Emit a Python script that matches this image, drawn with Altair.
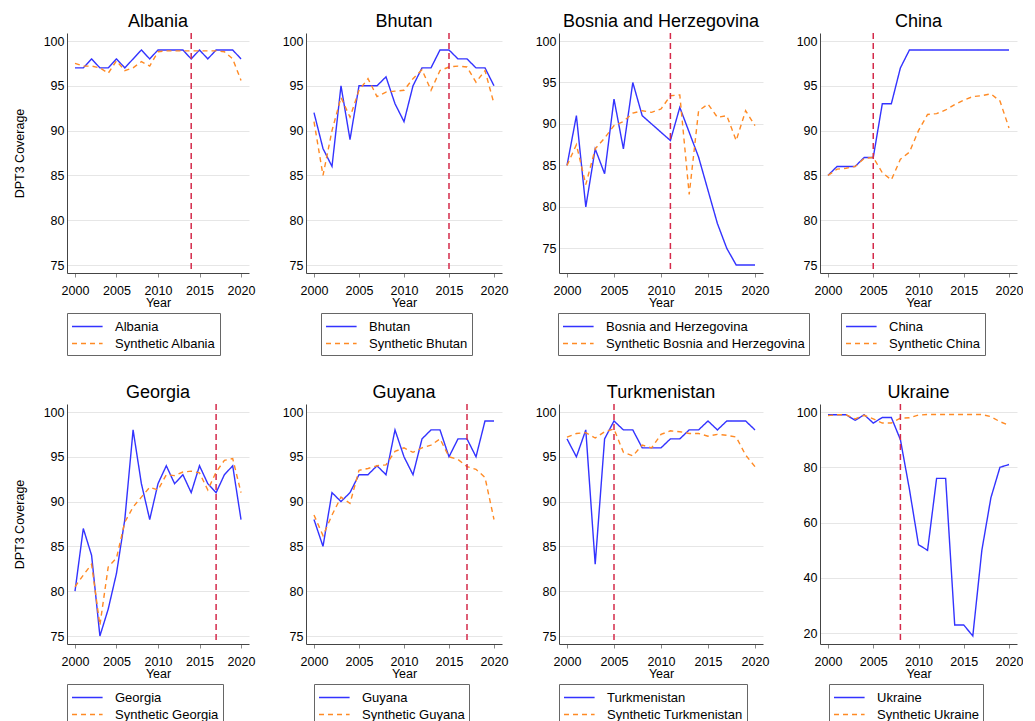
import altair as alt
import pandas as pd

years = list(range(2000, 2021))

albania = [97, 97, 98, 97, 97, 98, 97, 98, 99, 98, 99, 99, 99, 99, 98, 99, 98, 99, 99, 99, 98]
albania_syn = [97.5, 97.2, 97.2, 97.0, 96.4, 97.8, 96.7, 97.0, 97.7, 97.2, 98.8, 98.9, 98.9, 98.9, 98.9, 98.9, 98.9, 98.9, 98.8, 98.0, 95.6]

bhutan = [92, 88, 86, 95, 89, 95, 95, 95, 96, 93, 91, 95, 97, 97, 99, 99, 98, 98, 97, 97, 95]
bhutan_syn = [91, 85, 90, 93.7, 91.5, 94.5, 95.8, 93.8, 94.3, 94.4, 94.5, 95.8, 96.8, 94.5, 96.7, 97.1, 97.2, 97.1, 95.4, 96.7, 93.0]

bosnia = [85, 91, 80, 87, 84, 93, 87, 95, 91, 90, 89, 88, 92, 89, 86, 82, 78, 75, 73, 73, 73]
bosnia_syn = [85, 87.5, 82.7, 87, 88.3, 89.8, 90.3, 91.3, 91.6, 91.4, 91.8, 93.4, 93.5, 81.5, 91.6, 92.4, 90.8, 91, 88, 91.6, 89.8]

china = [85, 86, 86, 86, 87, 87, 93, 93, 97, 99, 99, 99, 99, 99, 99, 99, 99, 99, 99, 99, 99]
china_syn = [85, 85.7, 85.8, 86, 86.9, 87, 85.3, 84.5, 86.8, 87.6, 90, 91.8, 91.9, 92.3, 92.9, 93.4, 93.8, 93.9, 94.1, 93.3, 90.3]

georgia = [80, 87, 84, 75, 78, 82, 88, 98, 92, 88, 92, 94, 92, 93, 91, 94, 92, 91, 93, 94, 88]
georgia_syn = [80.5, 81.8, 83, 76.2, 82.7, 83.7, 87.7, 89.4, 90.5, 91.6, 91.3, 93.0, 92.9, 93.3, 93.4, 93.2, 91.3, 93.3, 94.6, 94.8, 91.0]

guyana = [88, 85, 91, 90, 91, 93, 93, 94, 93, 98, 95, 93, 97, 98, 98, 95, 97, 97, 95, 99, 99]
guyana_syn = [88.5, 86.2, 88.5, 90.5, 89.8, 93.5, 93.7, 94.0, 94.1, 95.6, 96.0, 95.5, 96.0, 96.3, 97.0, 95.0, 94.7, 93.9, 93.6, 92.7, 88.0]

turkmenistan = [97, 95, 98, 83, 97, 99, 98, 98, 96, 96, 96, 97, 97, 98, 98, 99, 98, 99, 99, 99, 98]
turkmenistan_syn = [97.2, 97.6, 97.7, 97.1, 97.8, 98.1, 95.5, 95.1, 96.3, 96.0, 97.5, 97.9, 97.8, 97.6, 97.6, 97.3, 97.5, 97.4, 97.2, 95.2, 93.9]

ukraine = [99, 99, 99, 97, 99, 96, 98, 98, 90, 72, 52, 50, 76, 76, 23, 23, 19, 50, 69, 80, 81]
ukraine_syn = [98.7, 99, 99, 97.5, 98.8, 97.5, 96, 96, 97.8, 97.9, 98.9, 99.1, 99.1, 99.1, 99.1, 99.1, 99.1, 99.1, 98.3, 96.5, 95.2]

countries = ["Albania", "Bhutan", "Bosnia and Herzegovina", "China",
             "Georgia", "Guyana", "Turkmenistan", "Ukraine"]
actual_series = [albania, bhutan, bosnia, china, georgia, guyana, turkmenistan, ukraine]
synthetic_series = [albania_syn, bhutan_syn, bosnia_syn, china_syn,
                    georgia_syn, guyana_syn, turkmenistan_syn, ukraine_syn]
treatment_years = [2014, 2015, 2011, 2005, 2017, 2017, 2005, 2008]
y_minimums = [75, 75, 73, 75, 75, 75, 75, 19]
y_tick_sets = [[75, 80, 85, 90, 95, 100]] * 7 + [[20, 40, 60, 80, 100]]
x_ticks = [2000, 2005, 2010, 2015, 2020]

panel_widths = [182, 196, 204, 197] * 2
legend_x = [0, 15, -1, 21, 0, 8, 0, 9]

FONT = "Liberation Sans"
BLUE = "#3333ff"
ORANGE = "#ff8a24"
RED = "#d42a4a"
PLOT_H = 240


def panel(i):
    name = countries[i]
    syn_name = "Synthetic " + name
    df = pd.DataFrame({
        "Year": years + years,
        "value": actual_series[i] + synthetic_series[i],
        "series": [name] * len(years) + [syn_name] * len(years),
    })
    leg = alt.Legend(
        title=None, orient="none", direction="vertical",
        legendX=legend_x[i], legendY=PLOT_H + 40,
        strokeColor="#666666", padding=4,
        labelFont=FONT, labelFontSize=13, labelColor="#000000",
        symbolType="M-1,0H2.6", symbolSize=289, symbolStrokeWidth=1.5,
        labelOffset=25, rowPadding=0, labelLimit=400,
    )
    x = alt.X("Year:Q",
              scale=alt.Scale(domain=[2000, 2020], nice=False, zero=False, padding=8),
              axis=alt.Axis(values=x_ticks, format="d", grid=False, title="Year",
                            titlePadding=0, labelPadding=7, tickSize=4,
                            tickColor="#888888", domainColor="#444444",
                            labelFont=FONT, labelFontSize=12.5, labelColor="#000000",
                            titleFont=FONT, titleFontSize=12.5, titleFontWeight="normal",
                            titleColor="#000000", labelFlush=False))
    yaxis_kwargs = dict(values=y_tick_sets[i], grid=True, gridColor="#e6e6e6",
                        ticks=False, domainColor="#444444", labelPadding=3,
                        labelFont=FONT, labelFontSize=12.5, labelColor="#000000",
                        titleFont=FONT, titleFontSize=12.5, titleFontWeight="normal",
                        titleColor="#000000", titlePadding=17)
    if i % 4 == 0:
        yaxis_kwargs["title"] = "DPT3 Coverage"
    else:
        yaxis_kwargs["title"] = None
    y = alt.Y("value:Q",
              scale=alt.Scale(domain=[y_minimums[i], 100], nice=False, zero=False, padding=8),
              axis=alt.Axis(**yaxis_kwargs))
    lines = alt.Chart(df).mark_line(strokeWidth=1.4).encode(
        x=x, y=y,
        color=alt.Color("series:N", scale=alt.Scale(domain=[name, syn_name], range=[BLUE, ORANGE]),
                        legend=leg, sort=[name, syn_name]),
        strokeDash=alt.StrokeDash("series:N",
                                  scale=alt.Scale(domain=[name, syn_name], range=[[1, 0], [5, 4]]),
                                  legend=leg, sort=[name, syn_name]),
    )
    rule = alt.Chart(pd.DataFrame({"Year": [treatment_years[i]]})).mark_rule(
        color=RED, strokeDash=[6, 4], strokeWidth=1.5
    ).encode(x="Year:Q")
    return alt.layer(lines, rule).properties(
        width=panel_widths[i], height=PLOT_H,
        title=alt.TitleParams(name, font=FONT, fontSize=18, fontWeight="normal",
                              color="#000000", anchor="middle", offset=1),
    )


panels = [panel(i) for i in range(8)]

chart = alt.concat(
    *panels, columns=4, spacing={"row": 131, "column": 57},
    bounds="flush", align="each",
).resolve_scale(
    color="independent", strokeDash="independent"
).resolve_legend(
    color="independent", strokeDash="independent"
).configure_view(stroke=None).properties(
    padding={"left": 5, "top": 5, "right": 0, "bottom": 5}
)

chart.save("out.html", embed_options={"renderer": "svg", "actions": False})
